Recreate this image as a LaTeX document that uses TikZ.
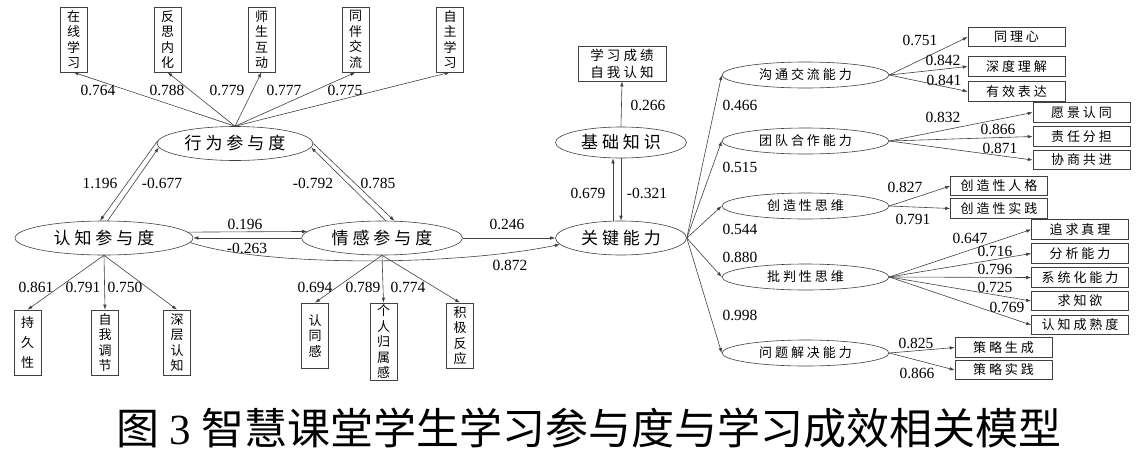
\documentclass[tikz,border=0pt]{standalone}
\usepackage{fontspec}
\setmainfont{Liberation Serif}
\newfontfamily\cjk{Noto Sans CJK SC}
\newfontfamily\cjkw[LetterSpace=23]{Noto Sans CJK SC}
\usetikzlibrary{shapes.geometric,arrows.meta}

\begin{document}
\begin{tikzpicture}[x=1pt, y=-1pt, line width=0.6pt,
  lat/.style={ellipse, draw=black!75, inner sep=0pt, minimum width=#1, minimum height=34pt, font=\cjkw\fontsize{17}{17}\selectfont},
  sub/.style={ellipse, draw=black!75, inner sep=0pt, minimum width=167pt, minimum height=26pt, font=\cjkw\fontsize{13}{13}\selectfont},
  ind/.style={draw=black!75, inner sep=0pt, minimum width=27pt, minimum height=65pt, align=center, font=\cjk\fontsize{13}{15.5}\selectfont},
  itm/.style={draw=black!75, inner sep=0pt, minimum width=97pt, minimum height=19.5pt, font=\cjkw\fontsize{13}{13}\selectfont},
  num/.style={inner sep=0pt, font=\fontsize{15.5}{15.5}\selectfont},
  arr/.style={draw=black!75, -{Latex[length=5pt,width=3.5pt]}}]
  \useasboundingbox (0,0) rectangle (1142,458);

  \node[lat=156pt] (B) at (235,143.5) {行为参与度};
  \node[lat=178pt] (C) at (104,238) {认知参与度};
  \node[lat=161pt] (E) at (382,238) {情感参与度};
  \node[lat=131pt] (K) at (621,238) {关键能力};
  \node[lat=131pt, minimum height=31pt] (J) at (621,142.5) {基础知识};
  \node[itm, minimum width=88pt, minimum height=35pt, align=center, font=\cjkw\fontsize{13.5}{17}\selectfont] (G) at (622,63.5) {学习成绩\\自我认知};

  \foreach \i/\x/\t/\lx/\v in {1/73.5/在\\线\\学\\习/98/0.764, 2/167.5/反\\思\\内\\化/167/0.788, 3/261.5/师\\生\\互\\动/227/0.779, 4/355.5/同\\伴\\交\\流/284/0.777, 5/450/自\\主\\学\\习/345/0.775} {
    \node[ind] (b\i) at (\x,39.5) {\t};
    \draw[arr] (B.north) -- (b\i.south);
    \node[num] (wb\i) at (\lx,90) {\v};
  }

  \foreach \i/\x/\t/\lx/\v in {1/27.5/持\\[4.5pt]久\\[4.5pt]性/36/0.861, 2/105/自\\我\\调\\节/83/0.791, 3/177/深\\层\\认\\知/125/0.750} {
    \node[ind] (c\i) at (\x,342.5) {\t};
    \draw[arr] (C.south) -- (c\i.north);
    \node[num] (wc\i) at (\lx,287) {\v};
  }

  \foreach \i/\x/\y/\h/\t/\lx/\v in {1/315/335.5/65/认\\同\\感/315/0.694, 2/383.5/341.5/77/个\\人\\归\\属\\感/363/0.789, 3/460/335.5/65/积\\极\\反\\应/408/0.774} {
    \node[ind, minimum height=\h pt] (e\i) at (\x,\y) {\t};
    \draw[arr] (E.south) -- (e\i.north);
    \node[num] (we\i) at (\lx,287) {\v};
  }

  \draw[arr] (B.178.9) -- (C.103.6);
  \draw[arr] (C.78.6) -- (B.183.7);
  \draw[arr] (E.78.7) -- (B.-3.9);
  \draw[arr] (B.0) -- (E.54.7);
  \node[num] (wbc) at (100,183) {1.196};
  \node[num] (wcb) at (162,183) {-0.677};
  \node[num] (web) at (313,183) {-0.792};
  \node[num] (wbe) at (378,183) {0.785};

  \draw[arr] (C.4) -- (E.175.6);
  \draw[arr] (E.west) -- (C.east);
  \node[num] (wce) at (245,224) {0.196};
  \node[num] (wec) at (247,248) {-0.263};

  \draw[arr] (E.east) -- (K.west);
  \draw[arr] (C.-3) .. controls (260,266) and (450,267) .. (K.186.5);
  \node[num] (wek) at (507,224) {0.246};
  \node[num] (wck) at (510,265) {0.872};

  \draw[arr] (J.south) -- (K.north);
  \draw[arr] ([xshift=-8pt]K.north) -- ([xshift=-8pt]J.south);
  \draw[arr] (J.north) -- (G.south);
  \node[num] (wkj) at (588,193) {0.679};
  \node[num] (wjk) at (647,193) {-0.321};
  \node[num] (wjg) at (648,105) {0.266};

  \foreach \i/\y/\t/\ly/\v in {1/75/沟通交流能力/105/0.466, 2/141/团队合作能力/167/0.515, 3/206/创造性思维/229/0.544, 4/277/批判性思维/257/0.880, 5/353/问题解决能力/315/0.998} {
    \node[sub] (q\i) at (805.5,\y) {\t};
    \draw[arr] (K.east) -- (q\i.west);
    \node[num] (wq\i) at (740,\ly) {\v};
  }

  \foreach \i/\p/\x/\y/\t/\lx/\ly/\v in {
    1/q1/1016.5/37/同理心/920/40/0.751, 2/q1/1016.5/66.5/深度理解/943/60/0.842, 3/q1/1016.5/91.5/有效表达/944/80/0.841,
    4/q2/1081.5/112.5/愿景认同/943/117/0.832, 5/q2/1081.5/136.5/责任分担/998/129/0.866, 6/q2/1081.5/160/协商共进/1000/148/0.871,
    7/q3/999/186/创造性人格/905/187/0.827, 8/q3/999/208.5/创造性实践/913/219/0.791,
    9/q4/1080/229.5/追求真理/970/238/0.647, 10/q4/1080/253.5/分析能力/995/251/0.716, 11/q4/1080/277.5/系统化能力/995/269/0.796,
    12/q4/1080/301/求知欲/995/287/0.725, 13/q4/1080/325/认知成熟度/1007/307/0.769,
    14/q5/1003.5/347.5/策略生成/916/343/0.825, 15/q5/1003.5/370/策略实践/917/373/0.866} {
    \node[itm] (r\i) at (\x,\y) {\t};
    \draw[arr] (\p.east) -- (r\i.west);
    \node[num] (wr\i) at (\lx,\ly) {\v};
  }

  \node[inner sep=0pt, font=\cjk\fontsize{43}{43}\selectfont] (cap) at (589,428) {图\hspace{10pt}{\rmfamily 3}\hspace{10pt}智慧课堂学生学习参与度与学习成效相关模型};
\end{tikzpicture}
\end{document}
